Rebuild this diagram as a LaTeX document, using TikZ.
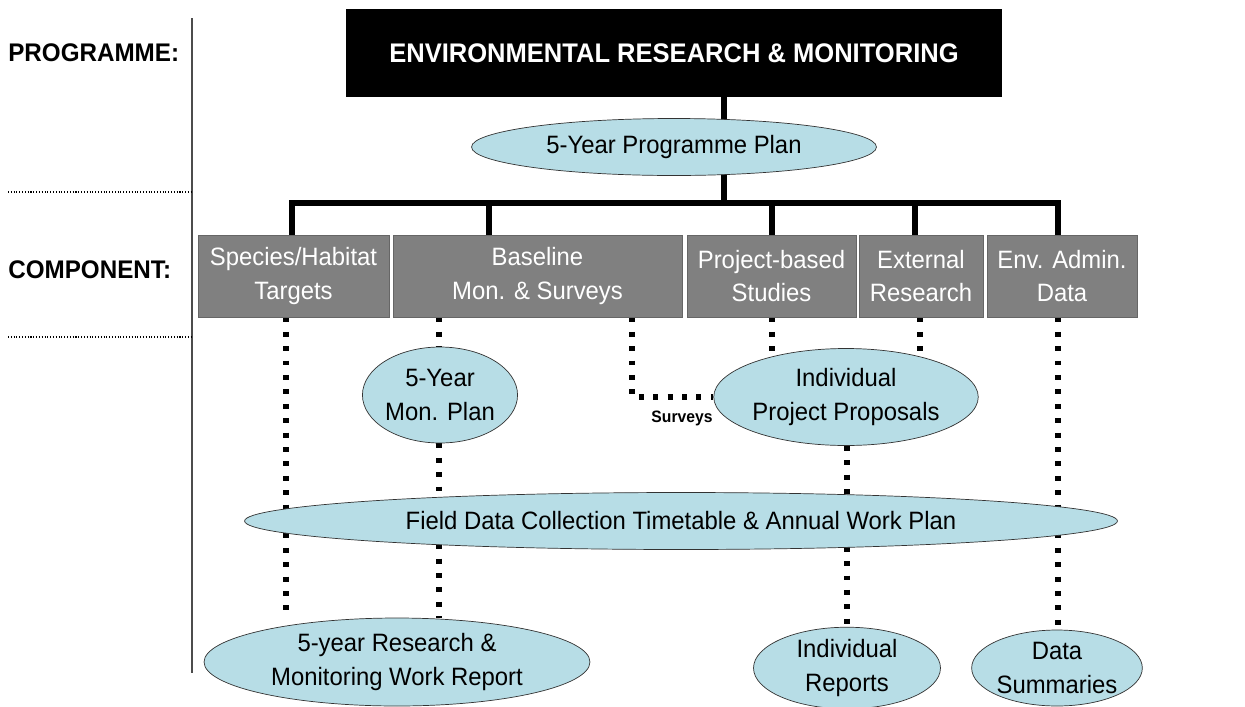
\documentclass[tikz,border=0pt]{standalone}
\usepackage{fontspec}
\setmainfont[FakeStretch=0.95]{Liberation Sans}
\usetikzlibrary{shapes.geometric,backgrounds}
\definecolor{boxgray}{HTML}{808080}
\definecolor{plancyan}{HTML}{B7DDE6}
\tikzset{
	compbox/.style={draw=black!60, fill=boxgray, text=white, minimum height=1.64cm, inner sep=0pt, align=center, font=\fontsize{14.3}{19.3}\selectfont},
	planell/.style={ellipse, draw=black!80, fill=plancyan, inner sep=0pt, align=center, font=\fontsize{14.3}{19.5}\selectfont},
	sidelabel/.style={anchor=west, inner sep=0pt, font=\bfseries\fontsize{14.5}{16}\selectfont},
	link/.style={line width=3.2pt},
	dotlink/.style={line width=3.2pt, dash pattern=on 2.8pt off 5.4pt}
}
\begin{document}
\begin{tikzpicture}[x=0.02cm, y=-0.02cm]
	\useasboundingbox (0,0) rectangle (1245,707);
	% left-hand levels
	\node[sidelabel] (lvlprog) at (8,53) {PROGRAMME:};
	\node[sidelabel] (lvlcomp) at (8,270) {COMPONENT:};
	\coordinate (ruletop) at (192,18);
	\coordinate (rulebot) at (192,673);
	\draw[black!70, line width=0.6pt] (ruletop) -- (rulebot);
	\draw[densely dotted, line width=0.6pt] (8,192) -- (ruletop |- 0,192);
	\draw[densely dotted, line width=0.6pt] (8,337) -- (ruletop |- 0,337);
	% programme
	\node[fill=black, text=white, minimum width=13.12cm, minimum height=1.76cm, font=\bfseries\fontsize{15.3}{17}\selectfont] (title) at (674,53) {ENVIRONMENTAL RESEARCH \& MONITORING};
	\node[planell, minimum width=8.1cm, minimum height=1.14cm] (progplan) at (674,147) {5-Year Programme Plan};
	% components
	\node[compbox, minimum width=3.82cm] (species) at (293.5,276) {Species/Habitat\\Targets};
	\node[compbox, minimum width=5.78cm] (baseline) at (537.5,276) {Baseline\\Mon. \& Surveys};
	\node[compbox, minimum width=3.38cm] (project) at (771.5,276) {Project-based\\Studies};
	\node[compbox, minimum width=2.48cm] (external) at (921,276) {External\\Research};
	\node[compbox, minimum width=3.0cm] (envadmin) at (1062,276) {Env. Admin.\\Data};
	% plans and outputs
	\node[planell, minimum width=2.92cm, minimum height=1.92cm] (monplan) at (440,395) {5-Year\\Mon. Plan};
	\node[planell, minimum width=4.54cm, minimum height=1.94cm] (proposals) at (846,397) {Individual\\Project Proposals};
	\node[planell, minimum width=17.46cm, minimum height=1.14cm] (fieldplan) at (681,521) {Field Data Collection Timetable \& Annual Work Plan};
	\node[planell, minimum width=7.72cm, minimum height=1.76cm] (report) at (397,662) {5-year Research \&\\Monitoring Work Report};
	\node[planell, minimum width=3.74cm, minimum height=1.6cm] (indreports) at (847,668) {Individual\\Reports};
	\node[planell, minimum width=3.3cm, minimum height=1.52cm] (summaries) at (1057,668) {Data\\Summaries};
	\node[font=\bfseries\fontsize{9.4}{10}\selectfont] (surveys) at (682,418) {Surveys};
	% connectors
	\begin{pgfonlayer}{background}
		\coordinate (trunk) at (724,203);
		\draw[link] (title.south -| trunk) -- (trunk);
		\foreach \comp/\xx in {species/292, baseline/489, project/772, external/915, envadmin/1058}{
			\coordinate (j-\comp) at (\xx,203);
			\draw[link] (j-\comp) -- (j-\comp |- \comp.north);
		}
		\draw[link, line cap=rect] (j-species) -- (j-envadmin);
		\coordinate (c1) at (286,0);
		\coordinate (c2) at (439,0);
		\coordinate (c3) at (632,0);
		\coordinate (c4) at (772,0);
		\coordinate (c5) at (920,0);
		\coordinate (c6) at (847,0);
		\coordinate (c7) at (1058,0);
		\draw[dotlink] (species.south -| c1) -- (report.north -| c1);
		\draw[dotlink] (baseline.south -| c2) -- (monplan.north -| c2);
		\draw[dotlink] (monplan.south -| c2) -- (report.north -| c2);
		\draw[dotlink] (baseline.south -| c3) |- (proposals.west);
		\draw[dotlink] (project.south -| c4) -- (proposals.center -| c4);
		\draw[dotlink] (external.south -| c5) -- (proposals.center -| c5);
		\draw[dotlink] (proposals.south -| c6) -- (indreports.north -| c6);
		\draw[dotlink] (envadmin.south -| c7) -- (summaries.north -| c7);
	\end{pgfonlayer}
\end{tikzpicture}
\end{document}
